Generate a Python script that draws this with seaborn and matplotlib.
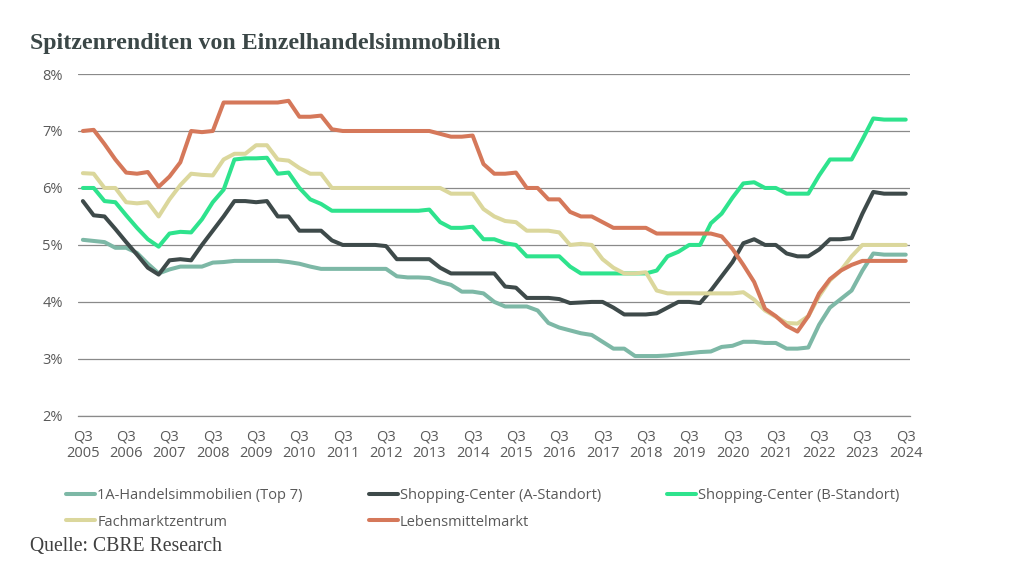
import matplotlib
matplotlib.use('Agg')
import matplotlib.pyplot as plt
import seaborn as sns
import numpy as np
import pandas as pd

sns.set_style('white')
plt.rcParams['font.family'] = ['Open Sans', 'DejaVu Sans']

# quarterly prime yields, Q3 2005 .. Q3 2024 (%)
years = list(range(2005, 2025))
tick_labels = ['Q3\n' + str(y) for y in years]

top7 = [5.09, 5.07, 5.05, 4.95, 4.95, 4.86, 4.67, 4.5, 4.57, 4.62,
        4.62, 4.62, 4.69, 4.7, 4.72, 4.72, 4.72, 4.72, 4.72, 4.7,
        4.67, 4.62, 4.58, 4.58, 4.58, 4.58, 4.58, 4.58, 4.58, 4.45,
        4.43, 4.43, 4.42, 4.35, 4.3, 4.18, 4.18, 4.15,
        4.0, 3.92, 3.92, 3.92, 3.85, 3.63, 3.55, 3.5, 3.45, 3.42,
        3.3, 3.18, 3.18, 3.05, 3.05, 3.05, 3.06, 3.08, 3.1,
        3.12, 3.13, 3.21, 3.23, 3.3, 3.3, 3.28, 3.28, 3.18, 3.18,
        3.2, 3.6, 3.9, 4.05, 4.2, 4.55, 4.85, 4.83, 4.83, 4.83]
sc_a = [5.77, 5.52, 5.5, 5.28, 5.05, 4.83, 4.6, 4.48, 4.73, 4.75,
        4.73, 5.0, 5.25, 5.5, 5.77, 5.77, 5.75, 5.77, 5.5, 5.5,
        5.25, 5.25, 5.25, 5.08, 5.0, 5.0, 5.0, 5.0, 4.98, 4.75,
        4.75, 4.75, 4.75, 4.6, 4.5, 4.5, 4.5, 4.5,
        4.5, 4.27, 4.25, 4.07, 4.07, 4.07, 4.05, 3.98, 3.99, 4.0,
        4.0, 3.9, 3.78, 3.78, 3.78, 3.8, 3.9, 4.0, 4.0,
        3.98, 4.2, 4.45, 4.7, 5.03, 5.1, 5.0, 5.0, 4.85, 4.8,
        4.8, 4.92, 5.1, 5.1, 5.12, 5.55, 5.93, 5.9, 5.9, 5.9]
sc_b = [6.0, 6.0, 5.77, 5.75, 5.52, 5.3, 5.1, 4.97, 5.2, 5.23,
        5.22, 5.45, 5.75, 5.97, 6.5, 6.52, 6.52, 6.53, 6.25, 6.27,
        6.0, 5.8, 5.72, 5.6, 5.6, 5.6, 5.6, 5.6, 5.6, 5.6,
        5.6, 5.6, 5.62, 5.4, 5.3, 5.3, 5.32, 5.1,
        5.1, 5.03, 5.0, 4.8, 4.8, 4.8, 4.8, 4.62, 4.5, 4.5,
        4.5, 4.5, 4.5, 4.5, 4.5, 4.55, 4.8, 4.88, 5.0,
        5.0, 5.38, 5.55, 5.83, 6.08, 6.1, 6.0, 6.0, 5.9, 5.9,
        5.9, 6.22, 6.5, 6.5, 6.5, 6.85, 7.22, 7.2, 7.2, 7.2]
fmz = [6.26, 6.25, 6.0, 6.0, 5.75, 5.73, 5.75, 5.5, 5.8, 6.05,
       6.25, 6.23, 6.22, 6.5, 6.6, 6.6, 6.75, 6.75, 6.5, 6.48,
       6.35, 6.25, 6.25, 6.0, 6.0, 6.0, 6.0, 6.0, 6.0, 6.0,
       6.0, 6.0, 6.0, 6.0, 5.9, 5.9, 5.9, 5.63,
       5.5, 5.42, 5.4, 5.25, 5.25, 5.25, 5.22, 5.0, 5.02, 5.0,
       4.75, 4.6, 4.5, 4.5, 4.52, 4.2, 4.15, 4.15, 4.15,
       4.15, 4.15, 4.15, 4.15, 4.17, 4.04, 3.85, 3.74, 3.63, 3.62,
       3.75, 4.1, 4.38, 4.55, 4.8, 5.0, 5.0, 5.0, 5.0, 5.0]
lmm = [7.0, 7.02, 6.77, 6.5, 6.27, 6.25, 6.28, 6.02, 6.2, 6.45,
       7.0, 6.98, 7.0, 7.5, 7.5, 7.5, 7.5, 7.5, 7.5, 7.53,
       7.25, 7.25, 7.27, 7.03, 7.0, 7.0, 7.0, 7.0, 7.0, 7.0,
       7.0, 7.0, 7.0, 6.95, 6.9, 6.9, 6.92, 6.42,
       6.25, 6.25, 6.27, 6.0, 6.0, 5.8, 5.8, 5.58, 5.5, 5.5,
       5.4, 5.3, 5.3, 5.3, 5.3, 5.2, 5.2, 5.2, 5.2,
       5.2, 5.2, 5.15, 4.93, 4.65, 4.35, 3.88, 3.75, 3.58, 3.48,
       3.75, 4.15, 4.4, 4.55, 4.65, 4.72, 4.72, 4.72, 4.72, 4.72]

series_names = ['1A-Handelsimmobilien (Top 7)', 'Shopping-Center (A-Standort)',
                'Shopping-Center (B-Standort)', 'Fachmarktzentrum',
                'Lebensmittelmarkt']
series_values = [top7, sc_a, sc_b, fmz, lmm]
colors = ['#7db8a6', '#3e4a4a', '#2ee38d', '#dbd79c', '#d5785a']

df = pd.concat([
    pd.DataFrame({'q': np.arange(len(v)), 'value': v, 'series': n})
    for n, v in zip(series_names, series_values)
])

fig = plt.figure(figsize=(10.33, 5.76), dpi=100)
ax = fig.add_axes([0.0755, 0.278, 0.8055, 0.5935])

ax.yaxis.grid(True, color='#8a8a8a', linewidth=0.9)
ax.set_axisbelow(True)
sns.lineplot(data=df, x='q', y='value', hue='series', palette=colors,
             hue_order=series_names, linewidth=2.9, ax=ax, legend=False)

ax.set_ylim(2, 8)
ax.set_xlim(-0.45, 76.4)
ax.set_yticks(range(2, 9))
ax.set_yticklabels([str(v) + '%' for v in range(2, 9)])
ax.set_xticks(range(0, 77, 4))
ax.set_xticklabels(tick_labels, linespacing=1.15)
ax.tick_params(axis='both', length=0, labelsize=10.5, labelcolor='#595959')
ax.tick_params(axis='y', pad=11)
ax.tick_params(axis='x', pad=10)
ax.set_xlabel('')
ax.set_ylabel('')
for s in ax.spines.values():
    s.set_visible(False)
ax.spines['bottom'].set_visible(True)
ax.spines['bottom'].set_color('#8a8a8a')
ax.spines['bottom'].set_linewidth(0.9)

# legend, filled row by row like the original
lines = ax.get_lines()[-5:]
handles = dict(zip(series_names, lines))
order = [0, 3, 1, 4, 2]
fig.legend([handles[series_names[i]] for i in order],
           [series_names[i] for i in order],
           loc='upper left', bbox_to_anchor=(0.064, 0.153), ncol=3,
           frameon=False, fontsize=10.5, labelcolor='#595959',
           handlelength=2.0, handletextpad=0.15, columnspacing=4.5,
           labelspacing=0.8, borderaxespad=0, borderpad=0)

fig.text(0.029, 0.925, 'Spitzenrenditen von Einzelhandelsimmobilien',
         family='Liberation Serif', fontweight='bold', fontsize=17.2,
         color='#3b4747', va='center')
fig.text(0.029, 0.052, 'Quelle: CBRE Research', family='Liberation Serif',
         fontsize=14.2, color='#404040', va='center')

plt.savefig('out.png', dpi=100)
plt.close('all')
